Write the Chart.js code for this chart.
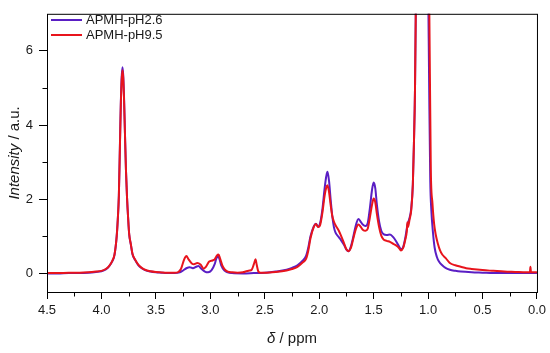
<!DOCTYPE html>
<html>
<head>
<meta charset="utf-8">
<script src="https://cdn.jsdelivr.net/npm/chart.js@4"></script>
<style>
html,body{margin:0;padding:0;background:#fff;}
#wrap{width:550px;height:353px;}
</style>
</head>
<body>
<div id="wrap"><canvas id="c" width="550" height="353"></canvas></div>
<script>
// ---- data ----
const seriesLabels = ['APMH-pH2.6', 'APMH-pH9.5'];

const ppmPH26 = [4.50,4.40,4.30,4.20,4.12,4.05,4.00,3.96,3.93,3.90,3.88,3.86,3.85,3.84,3.83,3.822,3.814,3.807,3.80,3.792,3.785,3.775,3.765,3.755,3.745,3.73,3.715,3.69,3.66,3.63,3.60,3.55,3.50,3.45,3.40,3.33,3.28,3.25,3.22,3.19,3.16,3.13,3.11,3.08,3.05,3.02,2.99,2.96,2.945,2.93,2.915,2.90,2.87,2.84,2.80,2.70,2.60,2.50,2.40,2.30,2.25,2.20,2.15,2.12,2.10,2.08,2.05,2.03,2.01,1.99,1.97,1.95,1.935,1.924,1.91,1.895,1.88,1.865,1.85,1.82,1.80,1.77,1.75,1.73,1.71,1.69,1.665,1.64,1.62,1.60,1.575,1.555,1.535,1.515,1.50,1.485,1.47,1.45,1.43,1.41,1.38,1.35,1.32,1.29,1.265,1.25,1.23,1.21,1.19,1.17,1.155,1.14,1.13,1.12,1.11,1.09,1.06,1.03,1.00,0.99,0.98,0.97,0.955,0.94,0.92,0.90,0.87,0.84,0.80,0.75,0.70,0.60,0.50,0.40,0.20,0.00];
const intPH26 = [0.00,0.00,0.01,0.01,0.02,0.04,0.06,0.11,0.19,0.33,0.50,1.00,1.45,2.10,3.50,4.60,5.30,5.56,5.35,4.70,3.90,2.80,2.05,1.50,1.05,0.78,0.52,0.36,0.22,0.14,0.09,0.05,0.03,0.02,0.01,0.01,0.03,0.08,0.14,0.17,0.14,0.18,0.20,0.12,0.05,0.03,0.08,0.25,0.40,0.47,0.38,0.22,0.08,0.03,0.01,0.00,0.01,0.02,0.05,0.10,0.15,0.22,0.35,0.48,0.70,1.00,1.27,1.34,1.26,1.38,1.75,2.30,2.62,2.74,2.50,2.00,1.55,1.25,1.10,0.98,0.90,0.76,0.64,0.60,0.72,0.95,1.28,1.47,1.40,1.32,1.28,1.35,1.75,2.25,2.45,2.30,1.85,1.40,1.15,1.06,1.04,1.05,0.98,0.85,0.72,0.65,0.70,0.95,1.30,1.50,1.75,2.40,3.50,5.00,8.00,14.0,20.0,14.0,8.00,5.00,2.50,1.70,1.10,0.70,0.45,0.32,0.22,0.15,0.10,0.07,0.05,0.03,0.02,0.01,0.01,0.01];

const ppmPH95 = [4.50,4.40,4.30,4.20,4.12,4.05,4.00,3.96,3.93,3.90,3.88,3.86,3.85,3.84,3.83,3.822,3.814,3.807,3.80,3.792,3.785,3.775,3.765,3.755,3.745,3.73,3.715,3.69,3.66,3.63,3.60,3.55,3.50,3.40,3.33,3.30,3.27,3.24,3.22,3.20,3.17,3.15,3.12,3.09,3.06,3.04,3.01,2.98,2.96,2.94,2.925,2.91,2.89,2.87,2.84,2.80,2.75,2.70,2.67,2.64,2.62,2.60,2.585,2.575,2.56,2.54,2.50,2.40,2.30,2.25,2.20,2.15,2.12,2.10,2.08,2.05,2.03,2.01,1.99,1.97,1.95,1.935,1.924,1.91,1.895,1.88,1.865,1.85,1.82,1.80,1.77,1.75,1.73,1.71,1.69,1.665,1.64,1.62,1.60,1.575,1.555,1.535,1.515,1.50,1.485,1.47,1.45,1.43,1.41,1.38,1.35,1.32,1.29,1.265,1.25,1.23,1.21,1.195,1.19,1.185,1.17,1.155,1.14,1.13,1.12,1.11,1.09,1.06,1.03,1.00,0.99,0.975,0.96,0.945,0.93,0.91,0.89,0.87,0.84,0.80,0.75,0.70,0.65,0.60,0.50,0.40,0.30,0.20,0.10,0.065,0.06,0.055,0.00];
const intPH95 = [0.01,0.01,0.02,0.02,0.03,0.05,0.07,0.12,0.20,0.34,0.51,1.00,1.45,2.10,3.45,4.55,5.22,5.48,5.28,4.65,3.88,2.80,2.05,1.50,1.06,0.79,0.53,0.37,0.23,0.15,0.10,0.06,0.04,0.02,0.02,0.03,0.12,0.38,0.47,0.38,0.27,0.25,0.28,0.24,0.13,0.18,0.32,0.35,0.38,0.48,0.51,0.40,0.22,0.12,0.05,0.03,0.02,0.03,0.06,0.08,0.10,0.25,0.38,0.25,0.06,0.02,0.02,0.04,0.08,0.12,0.18,0.30,0.40,0.62,0.95,1.25,1.33,1.25,1.32,1.65,2.10,2.32,2.38,2.20,1.85,1.55,1.40,1.30,1.15,1.02,0.80,0.65,0.60,0.68,0.90,1.18,1.32,1.26,1.18,1.15,1.20,1.50,1.85,2.02,1.92,1.60,1.25,1.02,0.92,0.88,0.85,0.80,0.75,0.68,0.62,0.68,0.90,1.15,1.38,1.25,1.45,1.70,2.40,3.50,5.00,8.00,14.0,20.0,14.0,9.00,7.50,2.80,1.90,1.35,1.05,0.80,0.62,0.51,0.42,0.28,0.22,0.18,0.14,0.12,0.09,0.07,0.05,0.04,0.03,0.03,0.18,0.03,0.03];

const xTicks = [4.5,4.0,3.5,3.0,2.5,2.0,1.5,1.0,0.5,0.0];
const xMinorTicks = [4.25,3.75,3.25,2.75,2.25,1.75,1.25,0.75,0.25];
const yTicks = [0,2,4,6];
const yMinorTicks = [1,3,5];

const colPH26 = '#5a1ec4';
const colPH95 = '#e8141c';

const toPts = (xs, ys) => xs.map((v, i) => ({x: v, y: ys[i]}));

const FONT = "'Liberation Sans', Arial, sans-serif";

const decor = {
  id: 'decor',
  afterDraw(chart) {
    const {ctx, chartArea: a, scales: {x, y}} = chart;
    ctx.save();
    ctx.strokeStyle = '#000';
    ctx.lineWidth = 1;
    ctx.strokeRect(a.left + 0.5, a.top + 0.5, a.right - a.left, a.bottom - a.top);
    ctx.beginPath();
    xMinorTicks.forEach(v => {
      const px = Math.round(x.getPixelForValue(v)) + 0.5;
      ctx.moveTo(px, a.bottom); ctx.lineTo(px, a.bottom + 4.5);
    });
    yMinorTicks.forEach(v => {
      const py = Math.round(y.getPixelForValue(v)) + 0.5;
      ctx.moveTo(a.left, py); ctx.lineTo(a.left - 4.5, py);
    });
    ctx.stroke();

    // legend
    const items = [[seriesLabels[0], colPH26, 20], [seriesLabels[1], colPH95, 35]];
    ctx.font = '13px ' + FONT;
    ctx.textBaseline = 'middle';
    ctx.fillStyle = '#1a1a1a';
    items.forEach(([t, c, yy]) => {
      ctx.strokeStyle = c; ctx.lineWidth = 2;
      ctx.beginPath(); ctx.moveTo(51, yy); ctx.lineTo(82, yy); ctx.stroke();
      ctx.fillText(t, 86, yy + 0.5);
    });

    // x title: δ / ppm
    ctx.fillStyle = '#1a1a1a';
    const cx = (a.left + a.right) / 2;
    ctx.font = 'italic 15px ' + FONT;
    const w1 = ctx.measureText('δ').width;
    ctx.font = '15px ' + FONT;
    const w2 = ctx.measureText(' / ppm').width;
    let sx = cx - (w1 + w2) / 2;
    ctx.textBaseline = 'alphabetic';
    ctx.font = 'italic 15px ' + FONT;
    ctx.fillText('δ', sx, 343);
    ctx.font = '15px ' + FONT;
    ctx.fillText(' / ppm', sx + w1, 343);

    // y title: Intensity / a.u.
    const cy = (a.top + a.bottom) / 2;
    ctx.save();
    ctx.translate(19, cy);
    ctx.rotate(-Math.PI / 2);
    ctx.font = 'italic 15px ' + FONT;
    const v1 = ctx.measureText('Intensity').width;
    ctx.font = '15px ' + FONT;
    const v2 = ctx.measureText(' / a.u.').width;
    let sy = -(v1 + v2) / 2;
    ctx.font = 'italic 15px ' + FONT;
    ctx.fillText('Intensity', sy, 0);
    ctx.font = '15px ' + FONT;
    ctx.fillText(' / a.u.', sy + v1, 0);
    ctx.restore();
    ctx.restore();
  }
};

new Chart(document.getElementById('c'), {
  type: 'line',
  data: {
    datasets: [
      {label: seriesLabels[0], data: toPts(ppmPH26, intPH26), borderColor: colPH26, borderWidth: 2, pointRadius: 0, cubicInterpolationMode: 'monotone', fill: false, order: 1},
      {label: seriesLabels[1], data: toPts(ppmPH95, intPH95), borderColor: colPH95, borderWidth: 2, pointRadius: 0, cubicInterpolationMode: 'monotone', fill: false, order: 0}
    ]
  },
  options: {
    responsive: false,
    animation: false,
    events: [],
    layout: {padding: {left: 0, right: 13, top: 6, bottom: 0}},
    plugins: {legend: {display: false}, tooltip: {enabled: false}},
    scales: {
      x: {
        type: 'linear', reverse: true, min: 0, max: 4.5,
        afterBuildTicks: s => { s.ticks = xTicks.map(v => ({value: v})); },
        afterFit: s => { s.height = 61; },
        ticks: {color: '#1a1a1a', font: {family: FONT, size: 13}, padding: 4, maxRotation: 0, autoSkip: false,
          callback: v => Number(v).toFixed(1)},
        grid: {drawOnChartArea: false, drawTicks: true, tickLength: 7, color: '#000', lineWidth: 1},
        border: {display: false}
      },
      y: {
        type: 'linear', min: -0.5, max: 7,
        afterBuildTicks: s => { s.ticks = yTicks.map(v => ({value: v})); },
        afterFit: s => { s.width = 47; },
        ticks: {color: '#1a1a1a', font: {family: FONT, size: 13}, padding: 6, autoSkip: false,
          callback: v => String(v)},
        grid: {drawOnChartArea: false, drawTicks: true, tickLength: 8, color: '#000', lineWidth: 1},
        border: {display: false}
      }
    }
  },
  plugins: [decor]
});
</script>
</body>
</html>
